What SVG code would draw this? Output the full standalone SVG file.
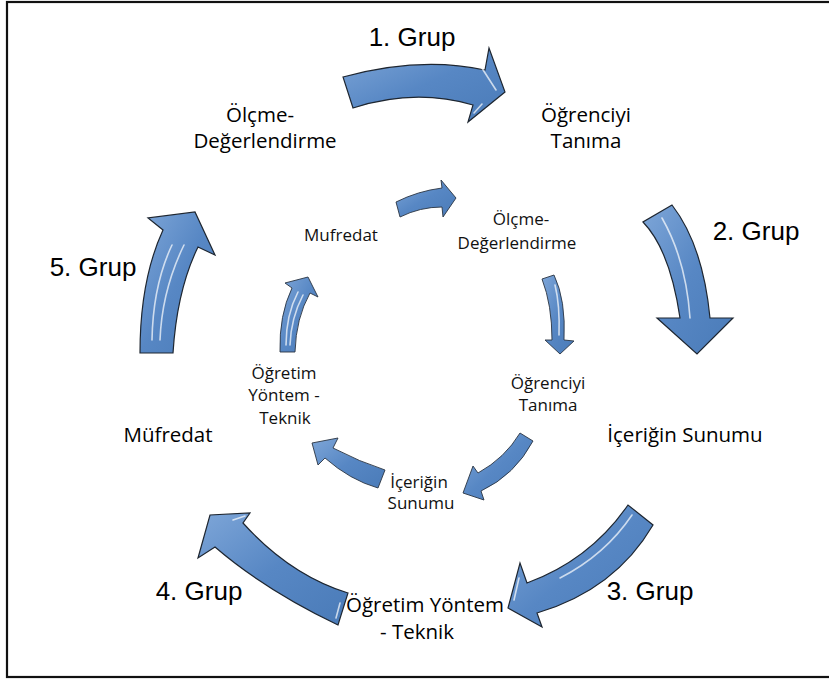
<svg xmlns="http://www.w3.org/2000/svg" width="829" height="679" viewBox="0 0 829 679">
  <defs>
    <linearGradient id="arrowFill" x1="0" y1="0" x2="1" y2="1">
      <stop offset="0" stop-color="#7ea6d8"/>
      <stop offset="0.5" stop-color="#5787c4"/>
      <stop offset="1" stop-color="#4a7bb8"/>
    </linearGradient>
    <style>
      .arrow { fill: url(#arrowFill); stroke: #1e2630; stroke-width: 1.2; stroke-linejoin: miter; }
      .inner { stroke-width: 0.9; stroke: #2a3442; }
      .shine { fill: none; stroke: #ffffff; stroke-opacity: 0.7; stroke-width: 1.6; stroke-linecap: round; }
      .grp { font-family: "Liberation Sans", Arial, sans-serif; font-size: 26px; fill: #000; text-anchor: middle; }
      .outer { font-family: "Open Sans", "Noto Sans", sans-serif; font-size: 20.5px; fill: #000; text-anchor: middle; }
      .small { font-family: "Open Sans", "Noto Sans", sans-serif; font-size: 17px; fill: #111; text-anchor: middle; }
    </style>
  </defs>

  <rect width="829" height="679" fill="#ffffff"/>
  <!-- frame -->
  <rect x="7" y="2" width="830" height="675" fill="none" stroke="#111" stroke-width="2.2"/>

  <!-- connectors: outer cycle -->
  <g id="connectors">
    <path class="arrow" d="M343,77 Q420,56 485,70 L489,48 L505,92 L468,122 L473,105 Q415,88 353,108 Z"/>
    <path class="shine" d="M478,62 L496,90 M474,113 L482,104"/>
    <path class="arrow" d="M643,222 Q670,250 680,318 L657,318 L697,354 L733,318 L710,318 Q703,245 672,205 Z"/>
    <path class="shine" d="M690,318 Q686,260 662,218"/>
    <path class="arrow" d="M628,505 Q590,560 527,583 L520,563 L508,608 L542,627 L537,613 Q615,590 653,525 Z"/>
    <path class="shine" d="M632,515 Q605,555 560,578 M519,578 L514,600"/>
    <path class="arrow" d="M348,593 Q290,575 243,523 L250,513 L210,515 L198,558 L215,547 Q265,590 338,625 Z"/>
    <path class="shine" d="M233,520 L245,516 M340,603 L336,618"/>
    <path class="arrow" d="M140,353 Q140,280 163,230 L148,218 L195,212 L215,255 L198,247 Q177,290 173,353 Z"/>
    <path class="shine" d="M152,340 Q153,285 172,245 M160,340 Q162,290 184,245"/>

    <!-- connectors: inner cycle -->
    <path class="arrow inner" d="M396,202 Q418,191 442,188 L441,180 L456,198 L443,217 L442,207 Q420,207 400,217 Z"/>
    <path class="arrow inner" d="M542,279 Q552,305 552,340 L545,340 L560,354 L574,341 L564,340 Q566,300 554,275 Z"/>
    <path class="shine" d="M555,285 Q560,305 559,335"/>
    <path class="arrow inner" d="M520,433 Q505,458 478,473 L473,466 L463,493 L484,500 L481,491 Q515,475 533,441 Z"/>
    <path class="arrow inner" d="M385,470 Q360,462 333,448 L338,438 L312,443 L318,465 L325,458 Q350,480 378,488 Z"/>
    <path class="arrow inner" d="M280,352 Q279,315 292,288 L285,283 L308,277 L318,297 L310,293 Q296,318 295,352 Z"/>
    <path class="shine" d="M286,345 Q286,315 298,292 M290,345 Q291,318 303,295"/>

    <text class="grp" x="412" y="46">1. Grup</text>
    <text class="grp" x="756" y="240">2. Grup</text>
    <text class="grp" x="650" y="600">3. Grup</text>
    <text class="grp" x="199" y="600">4. Grup</text>
    <text class="grp" x="93" y="276">5. Grup</text>
  </g>

  <!-- outer nodes -->
  <g id="outer-olcme">
    <text class="outer" x="260" y="122">Ölçme-</text>
    <text class="outer" x="265" y="148">Değerlendirme</text>
  </g>
  <g id="outer-ogrenciyi">
    <text class="outer" x="586" y="122">Öğrenciyi</text>
    <text class="outer" x="586" y="148">Tanıma</text>
  </g>
  <g id="outer-icerik">
    <text class="outer" x="685" y="442">İçeriğin Sunumu</text>
  </g>
  <g id="outer-yontem">
    <text class="outer" x="425" y="612">Öğretim Yöntem</text>
    <text class="outer" x="417" y="639">- Teknik</text>
  </g>
  <g id="outer-mufredat">
    <text class="outer" x="168" y="442">Müfredat</text>
  </g>

  <!-- inner nodes -->
  <g id="inner-mufredat">
    <text class="small" x="341" y="241">Mufredat</text>
  </g>
  <g id="inner-olcme">
    <text class="small" x="521" y="225">Ölçme-</text>
    <text class="small" x="517" y="249">Değerlendirme</text>
  </g>
  <g id="inner-ogrenciyi">
    <text class="small" x="548" y="389">Öğrenciyi</text>
    <text class="small" x="548" y="411">Tanıma</text>
  </g>
  <g id="inner-icerik">
    <text class="small" x="419" y="488">İçeriğin</text>
    <text class="small" x="421" y="509">Sunumu</text>
  </g>
  <g id="inner-yontem">
    <text class="small" x="284" y="379">Öğretim</text>
    <text class="small" x="284" y="401">Yöntem -</text>
    <text class="small" x="285" y="424">Teknik</text>
  </g>
</svg>
